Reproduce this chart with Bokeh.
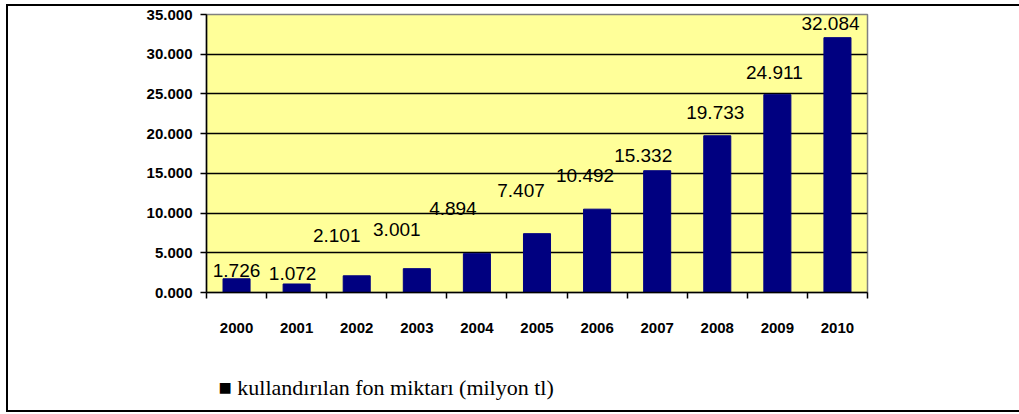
from bokeh.plotting import figure
from bokeh.models import (ColumnDataSource, FixedTicker, NumeralTickFormatter, Range1d, Title)
from bokeh.core.properties import value
from bokeh.embed import file_html
from bokeh.resources import INLINE

# ---- data ----
years = ["2000", "2001", "2002", "2003", "2004", "2005", "2006", "2007", "2008", "2009", "2010"]
funds = [1.726, 1.072, 2.101, 3.001, 4.894, 7.407, 10.492, 15.332, 19.733, 24.911, 32.084]
series_name = "kullandırılan fon miktarı (milyon tl)"
y_ticks = [0, 5, 10, 15, 20, 25, 30, 35]

# ---- label placement tweaks (pixels) ----
label_dx = [0, -4, -20, -20, -24, -16, -12, -14, -2, -3, -7]
label_dy = [8, 10, 40, 39, 45, 43, 34, 15, 23, 22, 14]

# page frame: canvas origin offset by margin + border
OX, OY = 8, 6
W, H = 1013, 408
FL, FR, FT, FB = 206 - OX, 867 - OX, 14 - OY, 292 - OY

n = len(years)
xs = [i + 0.5 for i in range(n)]
src = ColumnDataSource(dict(
    x=xs, top=funds,
    label=[f"{v:.3f}" for v in funds],
    dx=label_dx, dy=[-d for d in label_dy],
))

p = figure(width=W, height=H, output_backend="svg", toolbar_location=None,
           x_range=Range1d(0, n), y_range=Range1d(0, 35),
           min_border_left=FL, min_border_right=W - FR,
           min_border_top=FT, min_border_bottom=H - FB)
p.styles = {"margin-left": "6px", "margin-top": "4px",
            "border-top": "2px solid black", "border-left": "2px solid black",
            "border-bottom": "2px solid black"}
p.background_fill_color = "#FFFF99"
p.border_fill_color = "white"
p.outline_line_color = "#808080"
p.outline_line_width = 1.5

p.vbar(x="x", top="top", width=0.45, bottom=0, source=src,
       fill_color="#000080", line_color="#000080")

p.text(x="x", y="top", text="label", x_offset="dx", y_offset="dy", source=src,
       text_align="center", text_baseline="middle",
       text_font=value("Liberation Sans"), text_font_size="19px", text_color="black")

# grid
p.xgrid.grid_line_color = None
p.ygrid.ticker = FixedTicker(ticks=y_ticks)
p.ygrid.grid_line_color = "black"
p.ygrid.grid_line_width = 1.5

# y axis
yax = p.yaxis[0]
yax.ticker = FixedTicker(ticks=y_ticks)
yax.formatter = NumeralTickFormatter(format="0.000")
yax.axis_line_color = "black"
yax.axis_line_width = 1.5
yax.major_tick_in = 0
yax.major_tick_out = 6
yax.major_tick_line_color = "black"
yax.major_tick_line_width = 1.5
yax.minor_tick_line_color = None
yax.major_label_standoff = 8
yax.major_label_text_font = "Liberation Sans"
yax.major_label_text_font_size = "15px"
yax.major_label_text_font_style = "bold"
yax.major_label_text_color = "black"

# x axis
xax = p.xaxis[0]
xax.ticker = FixedTicker(ticks=xs, minor_ticks=list(range(n + 1)))
xax.major_label_overrides = {x: y for x, y in zip(xs, years)}
xax.axis_line_color = "black"
xax.axis_line_width = 1.5
xax.major_tick_in = 0
xax.major_tick_out = 0
xax.major_tick_line_color = None
xax.minor_tick_in = 0
xax.minor_tick_out = 6
xax.minor_tick_line_color = "black"
xax.minor_tick_line_width = 1.5
xax.major_label_standoff = 24
xax.major_label_text_font = "Liberation Sans"
xax.major_label_text_font_size = "15px"
xax.major_label_text_font_style = "bold"
xax.major_label_text_color = "black"

# legend-like caption below the chart (blank first line pushes it down)
p.add_layout(Title(text="\n■ " + series_name, align="left", offset=12, standoff=13,
                   text_line_height=1.25,
                   text_font="Liberation Serif", text_font_size="22px",
                   text_font_style="normal", text_color="black"), "below")

open("out.html", "w").write(file_html(p, INLINE))
